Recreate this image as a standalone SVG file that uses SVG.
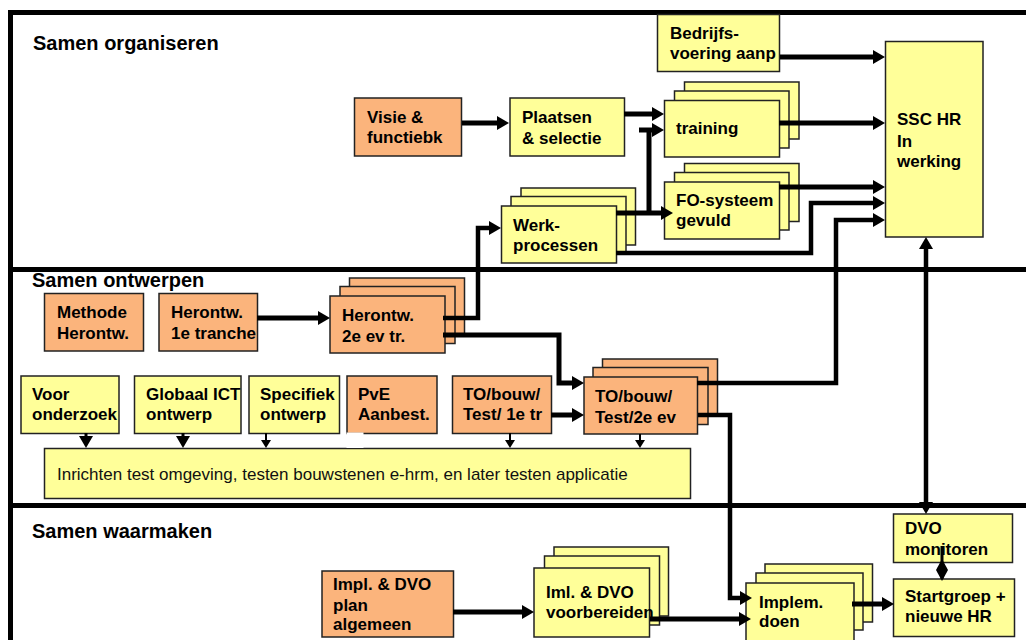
<svg xmlns="http://www.w3.org/2000/svg" width="1026" height="640" viewBox="0 0 1026 640">
<style>
.y{fill:#FFFF99;stroke:#222;stroke-width:1.5}
.o{fill:#FBB47C;stroke:#222;stroke-width:1.5}
.t{font-family:"Liberation Sans",Arial,sans-serif;font-size:17px;font-weight:bold;fill:#000}
.h{font-family:"Liberation Sans",Arial,sans-serif;font-size:20px;font-weight:bold;fill:#000}
.r{font-family:"Liberation Sans",Arial,sans-serif;font-size:17px;fill:#111}
.c{fill:none;stroke:#000;stroke-width:5}
.c4{fill:none;stroke:#000;stroke-width:4.5}
.thin{fill:none;stroke:#000;stroke-width:3}
.thin2{fill:none;stroke:#000;stroke-width:2}
.frame{fill:none;stroke:#000;stroke-width:5}
</style>
<defs>
<marker id="ah" viewBox="0 0 12 14" refX="2" refY="7" markerWidth="12" markerHeight="14" markerUnits="userSpaceOnUse" orient="auto"><path d="M0,0 L12,7 L0,14 z" fill="#000"/></marker>
<marker id="ahs" viewBox="0 0 12 14" refX="2" refY="7" markerWidth="12" markerHeight="14" markerUnits="userSpaceOnUse" orient="auto-start-reverse"><path d="M0,0 L12,7 L0,14 z" fill="#000"/></marker>
<marker id="as" viewBox="0 0 8 10" refX="1" refY="5" markerWidth="8" markerHeight="10" markerUnits="userSpaceOnUse" orient="auto"><path d="M0,0 L8,5 L0,10 z" fill="#000"/></marker>
</defs>

<!-- section titles -->
<text class="h" x="33" y="50">Samen organiseren</text>
<text class="h" x="32" y="287">Samen ontwerpen</text>
<text class="h" x="32" y="538">Samen waarmaken</text>

<!-- frame -->
<g id="frame">
<path class="frame" d="M10.5,12.5 V640"/>
<path class="frame" d="M8,12.5 H1026"/>
<path class="frame" d="M8,269.5 H1026"/>
<path class="frame" d="M8,505.5 H1026"/>
</g>

<!-- organiseren -->
<g id="visie"><rect class="o" x="354.5" y="98" width="107" height="58"/><text class="t" x="367" y="123">Visie &amp;</text><text class="t" x="367" y="143">functiebk</text></g>
<g id="plaatsen"><rect class="y" x="510" y="98" width="114.5" height="58"/><text class="t" x="522" y="123">Plaatsen</text><text class="t" x="522" y="144">&amp; selectie</text></g>
<g id="bedrijfs"><rect class="y" x="657.5" y="14.5" width="122" height="57"/><text class="t" x="670" y="39">Bedrijfs-</text><text class="t" x="670" y="59">voering aanp</text></g>
<g id="ssc"><rect class="y" x="885.5" y="41.5" width="97.5" height="195.5"/><text class="t" x="897" y="125">SSC HR</text><text class="t" x="897" y="147">In</text><text class="t" x="897" y="167">werking</text></g>
<g id="training"><rect class="y" x="684.5" y="82" width="114.5" height="57"/><rect class="y" x="674.5" y="91" width="114.5" height="57"/><rect class="y" x="664.5" y="100.5" width="115" height="56.5"/><text class="t" x="676" y="134">training</text></g>
<g id="fo"><rect class="y" x="684.5" y="163.5" width="114.5" height="58"/><rect class="y" x="674.5" y="172.5" width="114.5" height="57.5"/><rect class="y" x="664.5" y="182" width="115" height="57"/><text class="t" x="676" y="206">FO-systeem</text><text class="t" x="676" y="226">gevuld</text></g>
<g id="werk"><rect class="y" x="521" y="188" width="114.5" height="57"/><rect class="y" x="511" y="196.5" width="115" height="57"/><rect class="y" x="501.5" y="206" width="115" height="57"/><text class="t" x="513" y="231">Werk-</text><text class="t" x="513" y="251">processen</text></g>

<!-- ontwerpen -->
<g id="methode"><rect class="o" x="44.5" y="293.5" width="99" height="57.5"/><text class="t" x="57" y="318">Methode</text><text class="t" x="57" y="339">Herontw.</text></g>
<g id="herontw1"><rect class="o" x="159" y="293.5" width="98.5" height="57.5"/><text class="t" x="171" y="318">Herontw.</text><text class="t" x="171" y="339">1e tranche</text></g>
<g id="herontw2"><rect class="o" x="349.5" y="278" width="115" height="57"/><rect class="o" x="340" y="286.5" width="115" height="57"/><rect class="o" x="330" y="296" width="115" height="57"/><text class="t" x="342" y="321">Herontw.</text><text class="t" x="342" y="342">2e ev tr.</text></g>
<g id="voor"><rect class="y" x="21" y="376" width="98" height="57.5"/><text class="t" x="32" y="400">Voor</text><text class="t" x="32" y="420">onderzoek</text></g>
<g id="globaal"><rect class="y" x="134.5" y="376" width="106.5" height="57.5"/><text class="t" x="146" y="400">Globaal ICT</text><text class="t" x="146" y="420">ontwerp</text></g>
<g id="specifiek"><rect class="y" x="249" y="376" width="90.5" height="57.5"/><text class="t" x="260" y="400">Specifiek</text><text class="t" x="260" y="420">ontwerp</text></g>
<g id="pve"><rect class="o" x="347" y="376" width="90" height="57.5"/><text class="t" x="358" y="400">PvE</text><text class="t" x="358" y="420">Aanbest.</text></g>
<g id="to1"><rect class="o" x="452.5" y="376" width="99" height="57.5"/><text class="t" x="463" y="400">TO/bouw/</text><text class="t" x="463" y="420">Test/ 1e tr</text></g>
<g id="to2"><rect class="o" x="602.5" y="359" width="115" height="57"/><rect class="o" x="593" y="367.5" width="115" height="57"/><rect class="o" x="584" y="377" width="113.5" height="57"/><text class="t" x="595" y="402">TO/bouw/</text><text class="t" x="595" y="423">Test/2e ev</text></g>
<g id="testomgeving"><rect class="y" x="44.5" y="448.5" width="646" height="50"/><text class="r" x="57" y="480">Inrichten test omgeving, testen bouwstenen e-hrm, en later testen applicatie</text></g>
<rect x="346.5" y="432.5" width="17" height="15.5" fill="#fff"/>

<!-- waarmaken -->
<g id="implplan"><rect class="o" x="322" y="571" width="131.5" height="66"/><text class="t" x="333" y="590">Impl. &amp; DVO</text><text class="t" x="333" y="611">plan</text><text class="t" x="333" y="630">algemeen</text></g>
<g id="iml"><rect class="y" x="554" y="547" width="114.5" height="69"/><rect class="y" x="544.5" y="556" width="115" height="69"/><rect class="y" x="534" y="568" width="115.5" height="69"/><text class="t" x="546" y="598">Iml. &amp; DVO</text><text class="t" x="546" y="618">voorbereiden</text></g>
<g id="implem"><rect class="y" x="765" y="564" width="107.5" height="58"/><rect class="y" x="756" y="573" width="107" height="57"/><rect class="y" x="746" y="583" width="108" height="60"/><text class="t" x="759" y="608">Implem.</text><text class="t" x="759" y="627">doen</text></g>
<g id="dvo"><rect class="y" x="893.5" y="514" width="119" height="48.5"/><text class="t" x="905" y="534">DVO</text><text class="t" x="905" y="555">monitoren</text></g>
<g id="startgroep"><rect class="y" x="893.5" y="579" width="121" height="57.5"/><text class="t" x="905" y="602">Startgroep +</text><text class="t" x="905" y="622">nieuwe HR</text></g>

<!-- connectors -->
<g id="connectors">
<path class="c" d="M462,123 H499" marker-end="url(#ah)"/>
<path class="c" d="M624,114 H654" marker-end="url(#ah)"/>
<path class="c" d="M780,57 H875" marker-end="url(#ah)"/>
<path class="c" d="M779,123 H875" marker-end="url(#ah)"/>
<path class="c" d="M779,187 H875" marker-end="url(#ah)"/>
<path class="c" d="M616,213 H663" marker-end="url(#ah)"/>
<path class="c" d="M649,215 V130"/>
<path class="c" d="M639,130 H654" marker-end="url(#ah)"/>
<path class="c4" d="M616,253 H811 V203 H875" marker-end="url(#ah)"/>
<path class="c4" d="M697,383 H836 V220 H875" marker-end="url(#ah)"/>
<path class="c4" d="M443,318 H478 V228 H491" marker-end="url(#ah)"/>
<path class="c" d="M443,335 H559 V383 H574" marker-end="url(#ah)"/>
<path class="c" d="M257,318 H320" marker-end="url(#ah)"/>
<path class="c" d="M551,415 H574" marker-end="url(#ah)"/>
<path class="c4" d="M698,415 H730 V598 H742" marker-end="url(#ah)"/>
<path class="c" d="M453,612 H524" marker-end="url(#ah)"/>
<path class="c" d="M650,619 H741" marker-end="url(#ah)"/>
<path class="c" d="M852,604 H884" marker-end="url(#ah)"/>
<path class="c4" d="M926,247 V504" marker-start="url(#ahs)" marker-end="url(#ah)"/>
<path class="thin" d="M942,546 V579"/>
<polygon points="942,559 948,570 942,581 936,570" fill="#000"/>
<path class="thin" d="M86,433 V438" marker-end="url(#ah)"/>
<path class="thin" d="M183,433 V438" marker-end="url(#ah)"/>
<path class="thin2" d="M266,433 V441" marker-end="url(#as)"/>
<path class="thin2" d="M510,433 V441" marker-end="url(#as)"/>
<path class="thin2" d="M640,434 V441" marker-end="url(#as)"/>
</g>
</svg>
